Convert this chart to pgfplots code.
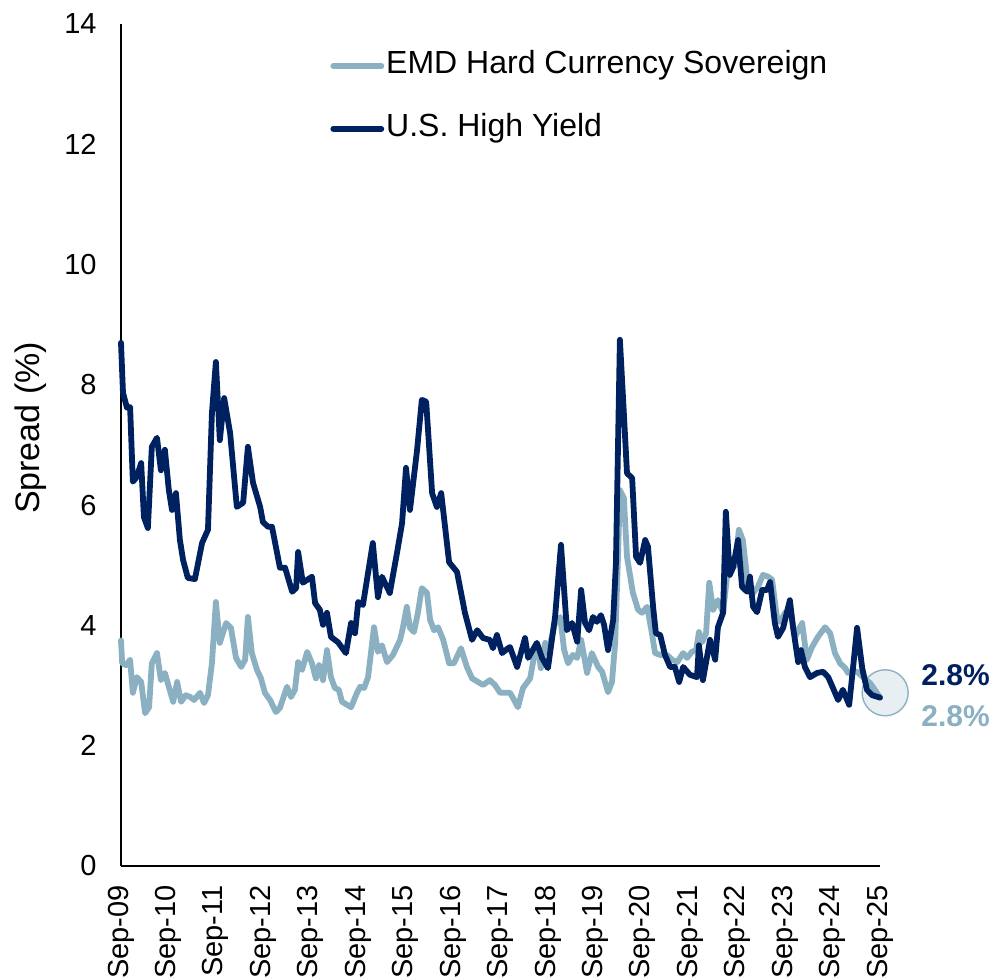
\documentclass[border=0pt]{standalone}
\usepackage{pgfplots}
\pgfplotsset{compat=1.18}
\usepackage{pgfplotstable}
\usepackage{fontspec}
\setmainfont{Liberation Sans}

\definecolor{hyblue}{RGB}{0,33,96}
\definecolor{emdblue}{RGB}{139,176,193}
\definecolor{ringfill}{RGB}{232,239,243}
\definecolor{ringdraw}{RGB}{143,176,194}

% months since Sep-09, spread (%)
\pgfplotstableread{
m y
0.0 8.70
0.5 7.87
1.5 7.62
2.3 7.63
3.0 6.39
4.0 6.47
5.1 6.70
5.8 5.80
6.8 5.62
7.8 6.97
9.1 7.12
10.1 6.58
11.1 6.92
12.1 6.25
12.9 5.92
13.9 6.20
14.9 5.42
15.7 5.09
16.9 4.79
18.7 4.77
20.5 5.37
22.0 5.59
23.0 7.53
24.0 8.38
25.0 7.08
26.1 7.78
27.6 7.20
29.3 5.97
30.9 6.04
32.1 6.97
33.4 6.37
35.2 5.97
35.9 5.72
37.2 5.64
38.2 5.64
40.2 4.96
41.5 4.96
43.3 4.56
44.3 4.62
44.8 5.22
46.0 4.71
48.3 4.81
49.1 4.37
50.3 4.26
51.1 4.01
52.1 4.21
53.1 3.81
54.9 3.72
56.9 3.54
58.2 4.04
59.2 3.87
60.0 4.39
61.2 4.34
63.7 5.37
65.0 4.47
66.0 4.81
68.0 4.54
69.8 5.20
71.1 5.70
72.1 6.62
73.1 5.92
74.9 6.92
76.1 7.75
77.2 7.72
78.7 6.20
79.9 5.97
81.0 6.20
83.0 5.05
85.0 4.89
87.0 4.21
88.8 3.76
90.1 3.92
91.6 3.79
93.3 3.76
94.1 3.62
95.1 3.84
96.4 3.54
97.9 3.62
98.4 3.64
100.2 3.31
102.2 3.79
103.0 3.46
105.2 3.71
106.5 3.46
108.0 3.29
109.8 4.14
111.3 5.34
112.8 3.92
114.1 4.04
115.4 3.73
116.4 4.59
117.4 4.04
118.4 3.92
119.4 4.14
120.4 4.06
121.4 4.17
122.2 4.01
123.2 3.59
124.5 4.09
125.2 5.04
126.2 8.75
127.2 7.53
128.0 6.53
129.3 6.45
130.3 5.14
131.3 5.04
132.6 5.42
133.3 5.31
134.6 4.31
135.3 3.87
136.4 3.84
137.6 3.51
138.9 3.31
140.1 3.31
141.2 3.06
142.2 3.31
143.9 3.18
145.7 3.14
146.2 3.67
147.2 3.09
149.0 3.76
150.3 3.43
151.0 3.97
152.3 4.21
153.0 5.89
154.0 4.84
154.8 4.96
156.1 5.42
157.1 4.64
158.4 4.56
159.1 4.81
159.9 4.31
160.9 4.22
162.2 4.59
163.4 4.59
164.2 4.72
165.4 4.04
166.2 3.81
167.5 3.96
169.2 4.42
170.0 3.97
171.3 3.39
172.0 3.59
173.0 3.31
174.3 3.14
176.1 3.21
177.6 3.23
178.9 3.14
180.1 2.96
181.4 2.76
182.6 2.93
184.2 2.68
185.2 3.31
186.2 3.96
187.5 3.29
188.7 2.93
190.0 2.84
192.0 2.80
}\hy

\pgfplotstableread{
m y
0.0 3.75
0.3 3.37
1.3 3.34
2.3 3.43
3.0 2.88
4.0 3.14
5.1 3.06
6.1 2.54
7.1 2.64
7.8 3.37
9.1 3.54
10.1 3.09
11.1 3.21
12.1 2.98
13.2 2.73
14.2 3.06
15.2 2.73
16.4 2.84
17.5 2.81
18.5 2.76
20.0 2.88
21.0 2.71
22.0 2.84
23.0 3.37
24.0 4.39
25.0 3.71
26.6 4.04
27.8 3.96
29.1 3.46
30.4 3.31
31.4 3.43
32.1 4.14
33.1 3.54
34.4 3.26
35.4 3.12
36.4 2.88
37.7 2.76
39.2 2.56
40.2 2.63
42.0 2.98
43.0 2.81
44.0 2.93
44.8 3.39
45.8 3.26
47.1 3.56
48.3 3.37
49.3 3.12
50.1 3.34
51.1 3.09
52.1 3.59
53.1 3.14
54.1 2.96
55.1 2.93
55.9 2.73
57.2 2.68
58.2 2.64
59.7 2.88
60.5 2.98
61.5 2.96
62.5 3.14
64.0 3.97
65.0 3.56
66.0 3.67
67.3 3.39
68.8 3.51
70.6 3.76
71.3 3.96
72.3 4.31
73.1 3.96
74.1 3.89
75.1 4.21
76.1 4.62
77.4 4.54
78.2 4.09
79.2 3.92
80.2 3.97
81.5 3.76
83.0 3.37
84.2 3.37
86.0 3.62
87.5 3.31
88.8 3.12
90.3 3.06
91.6 3.01
93.3 3.09
94.6 3.01
95.9 2.88
97.6 2.88
98.4 2.88
99.2 2.79
100.4 2.64
101.7 2.96
103.5 3.12
104.7 3.56
105.5 3.64
106.2 3.29
107.3 3.71
108.0 3.54
109.8 4.04
111.1 4.14
112.1 3.59
113.1 3.37
114.3 3.51
115.4 3.46
116.4 3.76
117.9 3.21
119.1 3.54
120.7 3.31
121.7 3.23
123.2 2.89
124.2 3.06
125.0 3.71
125.7 5.09
126.2 6.25
127.2 6.12
128.0 5.14
129.5 4.54
130.8 4.26
131.8 4.21
133.1 4.31
134.3 3.87
135.1 3.54
136.4 3.51
138.1 3.51
139.4 3.43
140.7 3.39
142.2 3.54
143.2 3.46
144.4 3.56
145.5 3.59
146.2 3.89
147.0 3.72
148.0 3.87
148.8 4.71
149.8 4.26
151.0 4.42
152.3 4.21
153.3 4.81
154.1 4.92
155.3 5.00
156.3 5.59
157.3 5.42
158.6 4.67
159.9 4.54
161.1 4.64
162.4 4.84
163.7 4.81
164.7 4.76
165.9 4.14
166.7 4.06
168.0 4.21
169.2 4.29
170.5 3.81
172.3 4.04
173.5 3.43
174.8 3.64
176.3 3.81
178.1 3.97
179.4 3.87
180.6 3.54
181.9 3.37
183.2 3.29
183.9 3.21
184.9 3.23
186.2 3.23
187.7 3.14
189.5 3.04
191.2 2.88
192.0 2.80
}\emd

\begin{document}
\begin{tikzpicture}
\path[use as bounding box] (-60.5pt,-56.5pt) rectangle (437pt,433pt);
\begin{axis}[
  scale only axis,
  width=379.5pt, height=421pt,
  xmin=0, xmax=192, ymin=0, ymax=14,
  axis x line=bottom, axis y line=left,
  axis line style={-, black, line width=0.8pt},
  major tick length=0pt,
  xtick={0,12,...,192},
  xticklabels={Sep-09,Sep-10,Sep-11,Sep-12,Sep-13,Sep-14,Sep-15,Sep-16,Sep-17,Sep-18,Sep-19,Sep-20,Sep-21,Sep-22,Sep-23,Sep-24,Sep-25},
  ytick={0,2,...,14},
  /pgf/number format/assume math mode=true,
  tick label style={font=\fontsize{14.5pt}{17pt}\selectfont, inner sep=0pt},
  xticklabel style={rotate=90, anchor=east},
  xticklabel shift=9.5pt,
  yticklabel style={anchor=east},
  yticklabel shift=12pt,
  clip=false,
  clip marker paths=true,
  legend style={draw=none, fill=none, at={(rel axis cs:0.2754,0.9685)}, anchor=north west,
    inner sep=0pt, row sep=16.5pt,
    font=\fontsize{16pt}{18pt}\selectfont,
    nodes={inner sep=0pt, text height=11.5pt, text depth=3.5pt},
    /tikz/every odd column/.append style={column sep=1pt}},
  legend cell align=left,
  legend image code/.code={\draw[#1, line cap=round] (0pt,0pt) -- (24pt,0pt);},
]
% highlight ring around the latest readings, drawn first so the lines sit on top
\addplot[only marks, mark=*, mark size=11.5pt,
  mark options={fill=ringfill, draw=ringdraw, line width=0.7pt}, forget plot]
  coordinates {(193.3,2.88)};
\addplot[emdblue, line width=2.9pt, line join=round, line cap=round] table[x=m,y=y] {\emd};
\addlegendentry{EMD Hard Currency Sovereign}
\addplot[hyblue, line width=2.9pt, line join=round, line cap=round] table[x=m,y=y] {\hy};
\addlegendentry{U.S. High Yield}
\node[anchor=west, font=\fontsize{15pt}{17pt}\selectfont\bfseries, text=hyblue, inner sep=0pt]
  at (axis cs:192,2.8) [xshift=20.5pt, yshift=11.3pt] {2.8\%};
\node[anchor=west, font=\fontsize{15pt}{17pt}\selectfont\bfseries, text=emdblue, inner sep=0pt]
  at (axis cs:192,2.8) [xshift=20.5pt, yshift=-9.2pt] {2.8\%};
\end{axis}
\node[rotate=90, font=\fontsize{17pt}{19pt}\selectfont] at (-45pt,219pt) {Spread (\%)};
\end{tikzpicture}
\end{document}
